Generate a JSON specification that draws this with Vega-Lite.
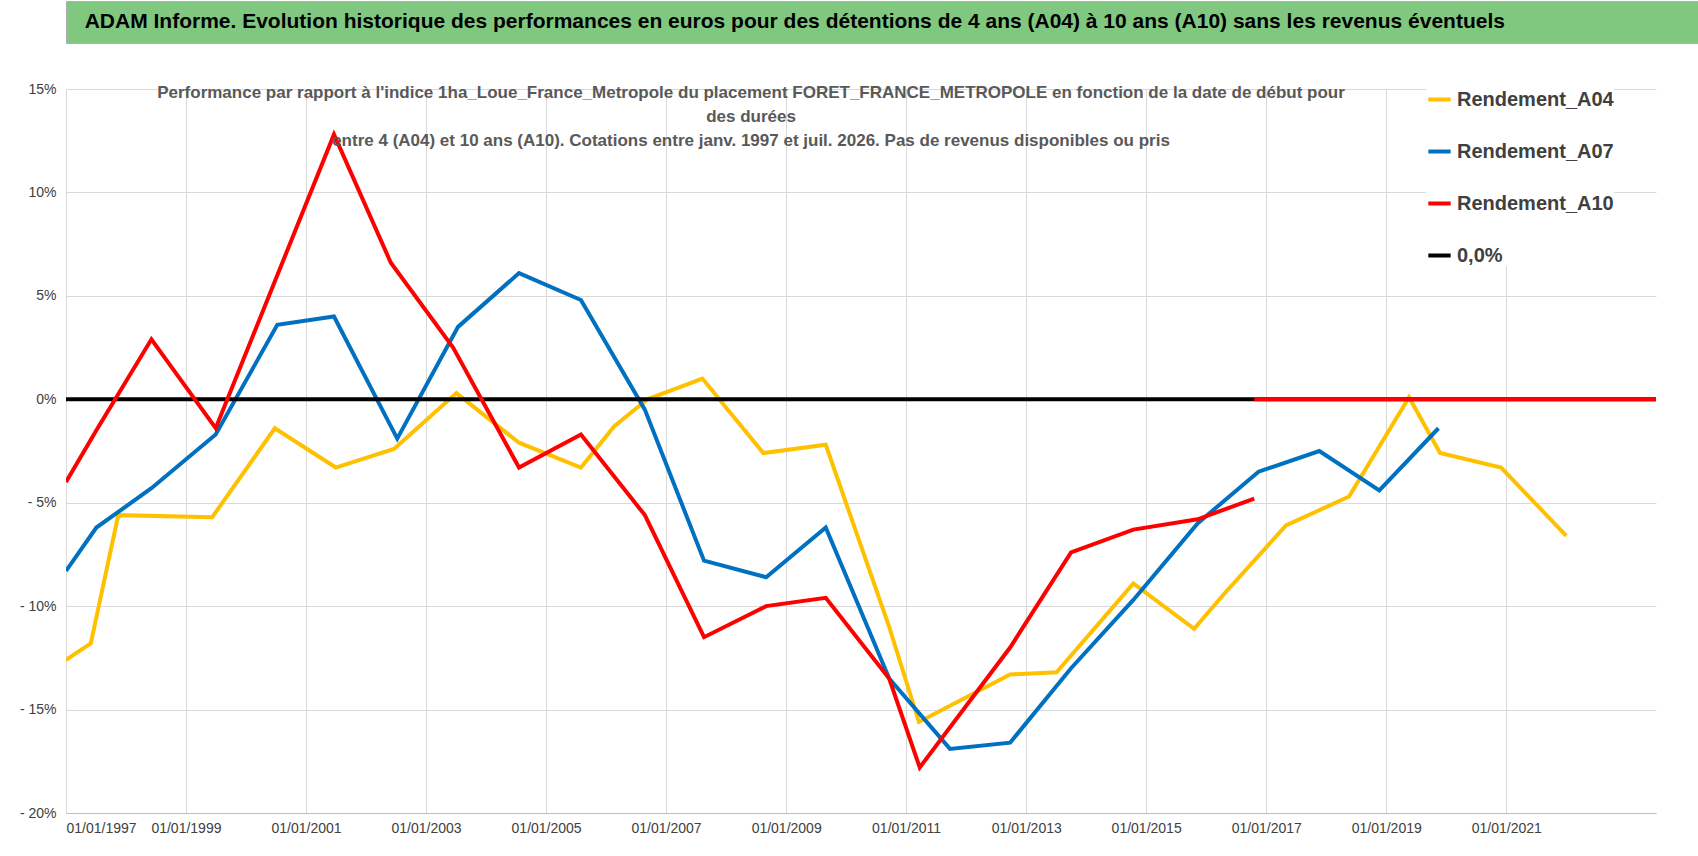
{
"$schema":"https://vega.github.io/schema/vega-lite/v6.json",
"padding":0,
"spacing":38,
"background":"white",
"config":{"font":"Liberation Sans","view":{"stroke":null}},
"vconcat":[
{
"width":1698,"height":42,
"view":{"fill":"#80c880","stroke":"#b0b0b0"},
"data":{"values":[{"pos":0.011,"t":"ADAM Informe. Evolution historique des performances en euros pour des détentions de 4 ans (A04) à 10 ans (A10) sans les revenus éventuels"}]},
"mark":{"type":"text","align":"left","baseline":"middle","fontWeight":"bold","fontSize":21,"color":"black","font":"Liberation Sans"},
"encoding":{"x":{"field":"pos","type":"quantitative","scale":{"domain":[0,1]},"axis":null},"text":{"field":"t"}}
},
{
"width":1590,"height":724,
"title":{"text":["Performance par rapport à l'indice 1ha_Loue_France_Metropole  du placement FORET_FRANCE_METROPOLE en fonction de la date de début pour","des durées","entre 4 (A04) et 10 ans (A10).  Cotations entre janv. 1997 et juil. 2026. Pas de revenus disponibles ou pris"],"fontSize":17,"fontWeight":"bold","color":"#595959","anchor":"middle","dx":-110,"dy":72,"lineHeight":24,"font":"Liberation Sans"},
"data":{"values":[
{"d":"1997-01-01","v":-12.6,"s":"Rendement_A04","g":"a04"},
{"d":"1997-06-01","v":-11.8,"s":"Rendement_A04","g":"a04"},
{"d":"1997-11-15","v":-5.6,"s":"Rendement_A04","g":"a04"},
{"d":"1999-06-10","v":-5.7,"s":"Rendement_A04","g":"a04"},
{"d":"2000-06-25","v":-1.4,"s":"Rendement_A04","g":"a04"},
{"d":"2001-07-01","v":-3.3,"s":"Rendement_A04","g":"a04"},
{"d":"2002-06-20","v":-2.4,"s":"Rendement_A04","g":"a04"},
{"d":"2003-07-05","v":0.3,"s":"Rendement_A04","g":"a04"},
{"d":"2004-07-20","v":-2.1,"s":"Rendement_A04","g":"a04"},
{"d":"2005-08-01","v":-3.3,"s":"Rendement_A04","g":"a04"},
{"d":"2006-02-20","v":-1.3,"s":"Rendement_A04","g":"a04"},
{"d":"2006-09-10","v":0.0,"s":"Rendement_A04","g":"a04"},
{"d":"2007-08-10","v":1.0,"s":"Rendement_A04","g":"a04"},
{"d":"2008-08-15","v":-2.6,"s":"Rendement_A04","g":"a04"},
{"d":"2009-08-30","v":-2.2,"s":"Rendement_A04","g":"a04"},
{"d":"2010-09-20","v":-11.0,"s":"Rendement_A04","g":"a04"},
{"d":"2011-03-20","v":-15.6,"s":"Rendement_A04","g":"a04"},
{"d":"2012-09-25","v":-13.3,"s":"Rendement_A04","g":"a04"},
{"d":"2013-07-05","v":-13.2,"s":"Rendement_A04","g":"a04"},
{"d":"2014-10-15","v":-8.9,"s":"Rendement_A04","g":"a04"},
{"d":"2015-10-20","v":-11.1,"s":"Rendement_A04","g":"a04"},
{"d":"2016-04-20","v":-9.4,"s":"Rendement_A04","g":"a04"},
{"d":"2017-05-01","v":-6.1,"s":"Rendement_A04","g":"a04"},
{"d":"2018-05-20","v":-4.7,"s":"Rendement_A04","g":"a04"},
{"d":"2019-05-20","v":0.1,"s":"Rendement_A04","g":"a04"},
{"d":"2019-11-25","v":-2.6,"s":"Rendement_A04","g":"a04"},
{"d":"2020-11-30","v":-3.3,"s":"Rendement_A04","g":"a04"},
{"d":"2022-01-01","v":-6.6,"s":"Rendement_A04","g":"a04"},
{"d":"1997-01-01","v":-8.3,"s":"Rendement_A07","g":"a07"},
{"d":"1997-07-05","v":-6.2,"s":"Rendement_A07","g":"a07"},
{"d":"1998-06-05","v":-4.3,"s":"Rendement_A07","g":"a07"},
{"d":"1999-07-01","v":-1.7,"s":"Rendement_A07","g":"a07"},
{"d":"2000-07-10","v":3.6,"s":"Rendement_A07","g":"a07"},
{"d":"2001-06-20","v":4.0,"s":"Rendement_A07","g":"a07"},
{"d":"2002-07-10","v":-1.9,"s":"Rendement_A07","g":"a07"},
{"d":"2003-07-15","v":3.5,"s":"Rendement_A07","g":"a07"},
{"d":"2004-07-20","v":6.1,"s":"Rendement_A07","g":"a07"},
{"d":"2005-08-01","v":4.8,"s":"Rendement_A07","g":"a07"},
{"d":"2006-08-25","v":-0.5,"s":"Rendement_A07","g":"a07"},
{"d":"2007-08-20","v":-7.8,"s":"Rendement_A07","g":"a07"},
{"d":"2008-09-01","v":-8.6,"s":"Rendement_A07","g":"a07"},
{"d":"2009-08-30","v":-6.2,"s":"Rendement_A07","g":"a07"},
{"d":"2010-09-20","v":-13.5,"s":"Rendement_A07","g":"a07"},
{"d":"2011-09-25","v":-16.9,"s":"Rendement_A07","g":"a07"},
{"d":"2012-09-25","v":-16.6,"s":"Rendement_A07","g":"a07"},
{"d":"2013-10-01","v":-13.0,"s":"Rendement_A07","g":"a07"},
{"d":"2014-10-15","v":-9.7,"s":"Rendement_A07","g":"a07"},
{"d":"2015-11-10","v":-6.0,"s":"Rendement_A07","g":"a07"},
{"d":"2016-11-15","v":-3.5,"s":"Rendement_A07","g":"a07"},
{"d":"2017-11-20","v":-2.5,"s":"Rendement_A07","g":"a07"},
{"d":"2018-11-20","v":-4.4,"s":"Rendement_A07","g":"a07"},
{"d":"2019-11-15","v":-1.4,"s":"Rendement_A07","g":"a07"},
{"d":"1997-01-01","v":0,"s":"0,0%","g":"zero"},
{"d":"2023-07-01","v":0,"s":"0,0%","g":"zero"},
{"d":"1997-01-01","v":-4.0,"s":"Rendement_A10","g":"a10"},
{"d":"1997-07-05","v":-1.5,"s":"Rendement_A10","g":"a10"},
{"d":"1998-06-05","v":2.9,"s":"Rendement_A10","g":"a10"},
{"d":"1999-07-01","v":-1.4,"s":"Rendement_A10","g":"a10"},
{"d":"2001-06-20","v":12.8,"s":"Rendement_A10","g":"a10"},
{"d":"2002-06-01","v":6.6,"s":"Rendement_A10","g":"a10"},
{"d":"2003-06-15","v":2.5,"s":"Rendement_A10","g":"a10"},
{"d":"2004-07-20","v":-3.3,"s":"Rendement_A10","g":"a10"},
{"d":"2005-08-01","v":-1.7,"s":"Rendement_A10","g":"a10"},
{"d":"2006-08-25","v":-5.6,"s":"Rendement_A10","g":"a10"},
{"d":"2007-08-20","v":-11.5,"s":"Rendement_A10","g":"a10"},
{"d":"2008-09-01","v":-10.0,"s":"Rendement_A10","g":"a10"},
{"d":"2009-08-30","v":-9.6,"s":"Rendement_A10","g":"a10"},
{"d":"2010-09-20","v":-13.5,"s":"Rendement_A10","g":"a10"},
{"d":"2011-03-25","v":-17.8,"s":"Rendement_A10","g":"a10"},
{"d":"2012-09-25","v":-12.0,"s":"Rendement_A10","g":"a10"},
{"d":"2013-10-01","v":-7.4,"s":"Rendement_A10","g":"a10"},
{"d":"2014-10-15","v":-6.3,"s":"Rendement_A10","g":"a10"},
{"d":"2015-11-10","v":-5.8,"s":"Rendement_A10","g":"a10"},
{"d":"2016-10-20","v":-4.8,"s":"Rendement_A10","g":"a10"},
{"d":"2016-10-20","v":0,"s":"Rendement_A10","g":"a10z"},
{"d":"2023-07-01","v":0,"s":"Rendement_A10","g":"a10z"}
]},
"mark":{"type":"line","strokeWidth":4,"clip":true},
"encoding":{
"x":{"field":"d","type":"temporal","scale":{"domain":["1997-01-01","2023-07-01"]},"axis":{"values":["1997-01-01","1999-01-01","2001-01-01","2003-01-01","2005-01-01","2007-01-01","2009-01-01","2011-01-01","2013-01-01","2015-01-01","2017-01-01","2019-01-01","2021-01-01"],"format":"%d/%m/%Y","title":null,"labelFontSize":14,"labelColor":"#404040","gridColor":"#d9d9d9","domainColor":"#bfbfbf","ticks":false,"labelPadding":8,"labelFont":"Liberation Sans"}},
"y":{"field":"v","type":"quantitative","scale":{"domain":[-20,15]},"axis":{"values":[-20,-15,-10,-5,0,5,10,15],"labelExpr":"datum.value < 0 ? '- ' + abs(datum.value) + '%' : datum.value + '%'","title":null,"labelFontSize":14,"labelColor":"#404040","gridColor":"#d9d9d9","domain":false,"ticks":false,"minExtent":66,"labelPadding":10,"labelFont":"Liberation Sans"}},
"color":{"field":"s","type":"nominal","scale":{"domain":["Rendement_A04","Rendement_A07","Rendement_A10","0,0%"],"range":["#ffc000","#0070c0","#ff0000","#000000"]},
"legend":{"orient":"none","legendX":1360,"legendY":85,"title":null,"labelFontSize":20,"labelColor":"#404040","symbolType":"stroke","symbolStrokeWidth":4,"symbolSize":500,"rowPadding":28,"labelFont":"Liberation Sans","labelFontWeight":"bold","fillColor":"white"}},
"detail":{"field":"g"},
"order":{"field":"d","type":"temporal"}
}
}
]
}
